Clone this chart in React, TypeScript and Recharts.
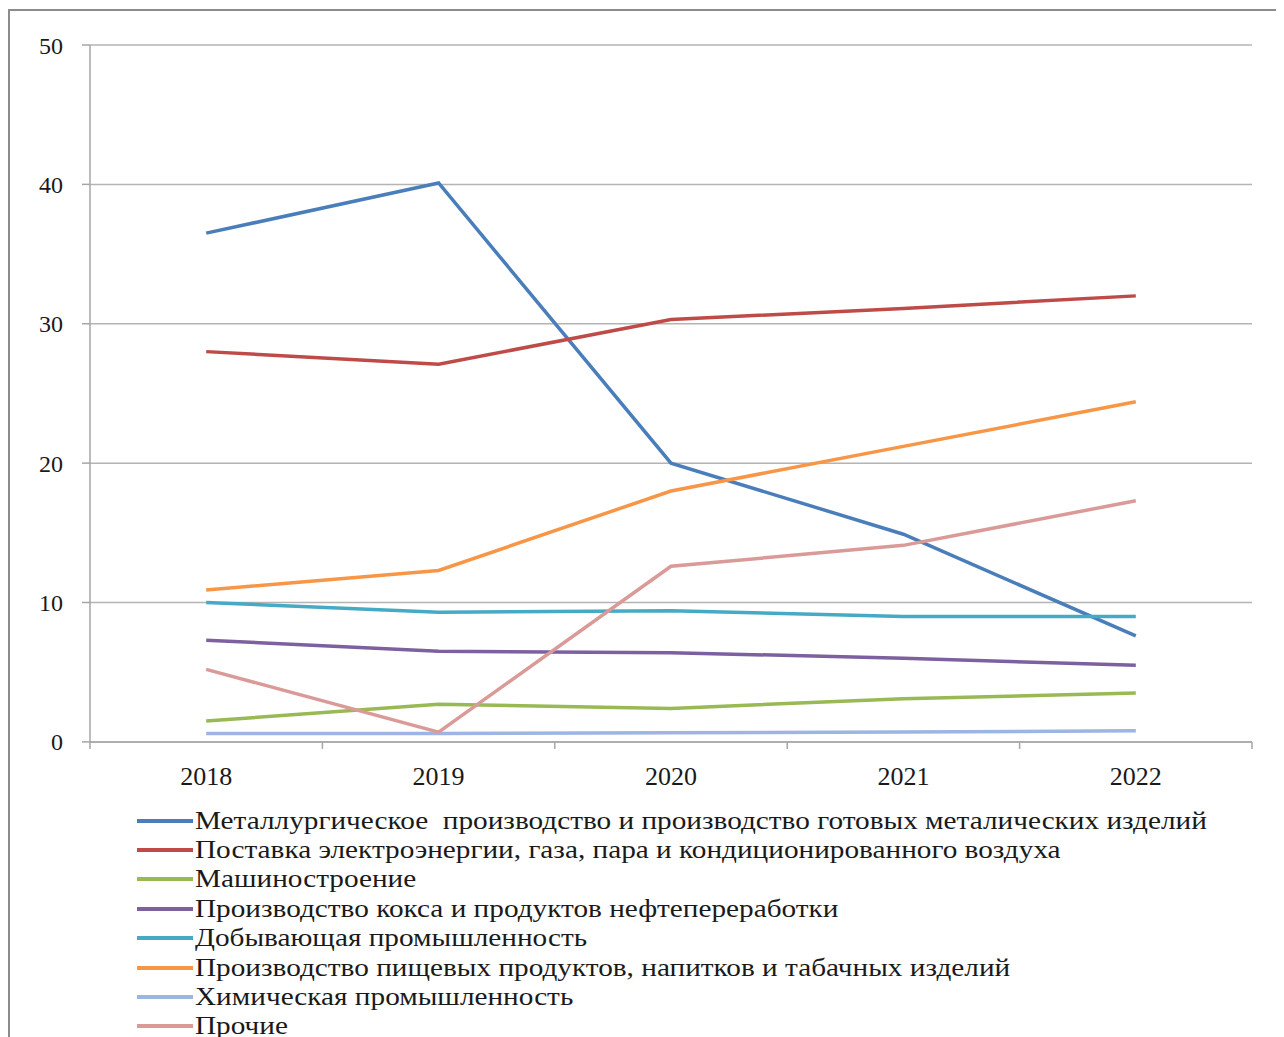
import { LineChart, Line, XAxis, YAxis, CartesianGrid, Legend } from "recharts";

const years = ["2018", "2019", "2020", "2021", "2022"];
const yTicks = [0, 10, 20, 30, 40, 50];

const metallurgy = [36.5, 40.1, 20.0, 14.9, 7.6];
const energy = [28.0, 27.1, 30.3, 31.1, 32.0];
const machinery = [1.5, 2.7, 2.4, 3.1, 3.5];
const coke = [7.3, 6.5, 6.4, 6.0, 5.5];
const mining = [10.0, 9.3, 9.4, 9.0, 9.0];
const food = [10.9, 12.3, 18.0, 21.2, 24.4];
const chemical = [0.6, 0.6, 0.65, 0.7, 0.8];
const other = [5.2, 0.7, 12.6, 14.1, 17.3];

const series = [
    { key: "metallurgy", name: "Металлургическое  производство и производство готовых металических изделий", color: "#4A7EBB", values: metallurgy },
    { key: "energy", name: "Поставка электроэнергии, газа, пара и кондиционированного воздуха", color: "#BE4B48", values: energy },
    { key: "machinery", name: "Машиностроение", color: "#98B954", values: machinery },
    { key: "coke", name: "Производство кокса и продуктов нефтепереработки", color: "#7D60A0", values: coke },
    { key: "mining", name: "Добывающая промышленность", color: "#46AAC5", values: mining },
    { key: "food", name: "Производство пищевых продуктов, напитков и табачных изделий", color: "#F79646", values: food },
    { key: "chemical", name: "Химическая промышленность", color: "#9DB5E2", values: chemical },
    { key: "other", name: "Прочие", color: "#D99A98", values: other },
];

const data = years.map((year, i) => {
    const row: Record<string, string | number> = { year };
    series.forEach((s) => {
        row[s.key] = s.values[i];
    });
    return row;
});

const W = 1267;
const H = 1030;
const M = { top: 34, right: 25, left: 0, bottom: 0 };
const Y_W = 80;
const halfBand = (W - M.right - Y_W) / years.length / 2;
const FONT = "Liberation Serif, Times New Roman, serif";

// ticks sit between the categories, like in the original spreadsheet chart
const YearTick = (props: any) => {
    const { x, y, payload, index } = props;
    return (
        <g>
            {index === 0 && (
                <line x1={x - halfBand} x2={x - halfBand} y1={y} y2={y + 7} stroke="#a6a6a6" strokeWidth={1.5} />
            )}
            <line x1={x + halfBand} x2={x + halfBand} y1={y} y2={y + 7} stroke="#a6a6a6" strokeWidth={1.5} />
            <text x={x} y={y + 43} textAnchor="middle" style={{ fontFamily: FONT, fontSize: 26 }} fill="#1a1a1a">
                {payload.value}
            </text>
        </g>
    );
};

const LegendList = () => (
    <div style={{ paddingLeft: 127, fontFamily: FONT, fontSize: 26, color: "#1a1a1a", textAlign: "left" }}>
        {series.map((s) => (
            <div key={s.key} style={{ height: 29.4, display: "flex", alignItems: "center", whiteSpace: "pre" }}>
                <span style={{ display: "inline-block", width: 56, height: 4, background: s.color, marginRight: 2, flex: "none" }} />
                <span style={{ display: "inline-block", transform: "scaleX(1.125)", transformOrigin: "left center" }}>{s.name}</span>
            </div>
        ))}
    </div>
);

const App = () => {
    return (
        <div
            style={{
                width: W,
                height: H + 10,
                border: "2px solid #8c8c8c",
                marginTop: 1,
                background: "#fff",
                overflow: "hidden",
                fontFamily: FONT,
            }}
        >
            <LineChart width={W} height={H} data={data} margin={M}>
                <CartesianGrid vertical={false} stroke="#b4b4b4" strokeWidth={1.5} />
                <XAxis
                    dataKey="year"
                    height={64}
                    padding={{ left: halfBand, right: halfBand }}
                    tickLine={false}
                    stroke="#a6a6a6"
                    strokeWidth={1.5}
                    tick={<YearTick />}
                    tickMargin={0}
                    tickSize={0}
                    interval={0}
                />
                <YAxis
                    width={Y_W}
                    domain={[0, 50]}
                    ticks={yTicks}
                    tickSize={8}
                    tickMargin={19}
                    stroke="#a6a6a6"
                    strokeWidth={1.5}
                    tick={{ style: { fontFamily: FONT }, fontSize: 24, fill: "#1a1a1a" }}
                />
                <Legend verticalAlign="bottom" align="left" layout="horizontal" content={<LegendList />} />
                {series.map((s) => (
                    <Line
                        key={s.key}
                        dataKey={s.key}
                        name={s.name}
                        stroke={s.color}
                        strokeWidth={3.5}
                        dot={false}
                        type="linear"
                        isAnimationActive={false}
                    />
                ))}
            </LineChart>
        </div>
    );
};

export default App;
